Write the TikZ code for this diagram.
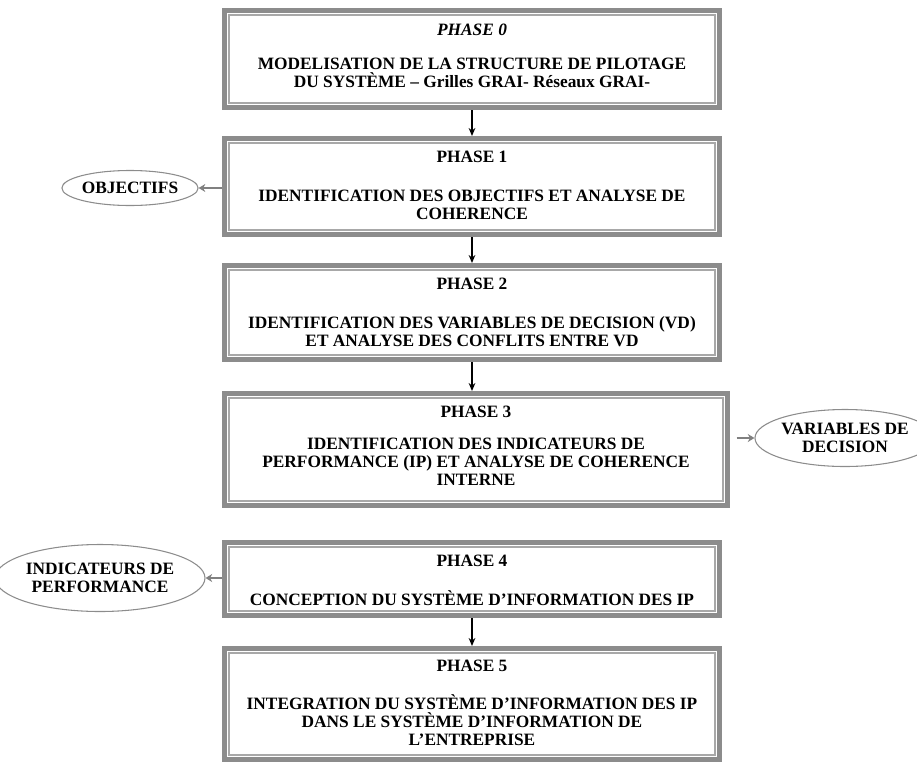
\documentclass[tikz,border=0pt]{standalone}
\usepackage{fontspec}
\setmainfont{Liberation Serif}
\usetikzlibrary{arrows.meta,shapes.geometric,fit}

\definecolor{frameout}{HTML}{8C8C8C}
\definecolor{framein}{HTML}{A8A8A8}
\definecolor{sidearrow}{HTML}{808080}
\definecolor{ovalline}{HTML}{8C8C8C}

\tikzset{
  phasebox/.style={draw=frameout, line width=3.75pt, inner sep=0pt, rectangle},
  innerframe/.style={draw=framein, line width=1pt},
  phasetitle/.style={font=\fontsize{13}{13.5}\selectfont\bfseries, inner sep=0pt},
  phasetext/.style={font=\fontsize{13}{13.5}\selectfont\bfseries, align=center, inner sep=0pt, anchor=north},
  outcome/.style={ellipse, draw=ovalline, line width=0.8pt, inner sep=0pt, align=center,
    font=\fontsize{13}{13}\selectfont\bfseries},
  flow/.style={draw=black, line width=1.1pt, -{Stealth[length=6pt,width=5pt]}},
  sideflow/.style={draw=sidearrow, line width=1.9pt, -{Stealth[length=5pt,width=6pt]}}
}

% one phase: outer thick frame and thin inner frame
\newcommand{\phaseframe}[5]{%
  \node[phasebox, fit={(#2+2.5,#3+2.5) (#4-2.5,#5-2.5)}] (#1) {};
  \draw[innerframe] ([shift={(7,7)}]#1.north west) rectangle ([shift={(-7,-7)}]#1.south east);
}

\begin{document}
\begin{tikzpicture}[x=0.75pt,y=-0.75pt]
\useasboundingbox (0,0) rectangle (917,764);

% phase frames
\phaseframe{b0}{222}{8}{722}{110}
\phaseframe{b1}{222}{136}{722}{237}
\phaseframe{b2}{222}{263}{722}{362}
\phaseframe{b3}{222}{391}{730}{508}
\phaseframe{b4}{222}{540}{722}{618}
\phaseframe{b5}{222}{646}{722}{762}

% titles
\node[phasetitle] (t0) at ([yshift=-16pt]b0.north) {\itshape PHASE 0};
\node[phasetitle] (t1) at ([yshift=-16pt]b1.north) {PHASE 1};
\node[phasetitle] (t2) at ([yshift=-16pt]b2.north) {PHASE 2};
\node[phasetitle] (t3) at ([yshift=-16pt]b3.north) {PHASE 3};
\node[phasetitle] (t4) at ([yshift=-16pt]b4.north) {PHASE 4};
\node[phasetitle] (t5) at ([yshift=-15pt]b5.north) {PHASE 5};

% descriptions
\node[phasetext] (d0) at ([yshift=-37pt]b0.north) {MODELISATION DE LA STRUCTURE DE PILOTAGE\\DU SYSTÈME – Grilles GRAI- Réseaux GRAI-};
\node[phasetext] (d1) at ([yshift=-40pt]b1.north) {IDENTIFICATION DES OBJECTIFS ET ANALYSE DE\\COHERENCE};
\node[phasetext] (d2) at ([yshift=-40pt]b2.north) {IDENTIFICATION DES VARIABLES DE DECISION (VD)\\ET ANALYSE DES CONFLITS ENTRE VD};
\node[phasetext] (d3) at ([yshift=-35pt]b3.north) {IDENTIFICATION DES INDICATEURS DE\\PERFORMANCE (IP) ET ANALYSE DE COHERENCE\\INTERNE};
\node[phasetext] (d4) at ([yshift=-38pt]b4.north) {CONCEPTION DU SYSTÈME D’INFORMATION DES IP};
\node[phasetext] (d5) at ([yshift=-36pt]b5.north) {INTEGRATION DU SYSTÈME D’INFORMATION DES IP\\DANS LE SYSTÈME D’INFORMATION DE\\L’ENTREPRISE};

% outcomes
\node[outcome, minimum width=87.75pt, minimum height=26.25pt] (obj) at (130,188) {OBJECTIFS};
\node[outcome, minimum width=114pt, minimum height=42.75pt] (vd) at (845,438) {VARIABLES DE\\DECISION};
\node[outcome, minimum width=132pt, minimum height=50.25pt] (ip) at (100,578) {INDICATEURS DE\\PERFORMANCE};

% sequence of phases
\draw[flow] (b0.south) -- (b0.south |- b1.north);
\draw[flow] (b1.south) -- (b1.south |- b2.north);
\draw[flow] (b2.south) -- (b2.south |- b3.north);
\draw[flow] (b4.south) -- (b4.south |- b5.north);

% produced elements
\draw[sideflow] (b1.west |- obj.east) -- (obj.east);
\draw[sideflow, shorten <=5pt] (b3.east |- vd.west) -- (vd.west);
\draw[sideflow] (b4.west |- ip.east) -- (ip.east);
\end{tikzpicture}
\end{document}
